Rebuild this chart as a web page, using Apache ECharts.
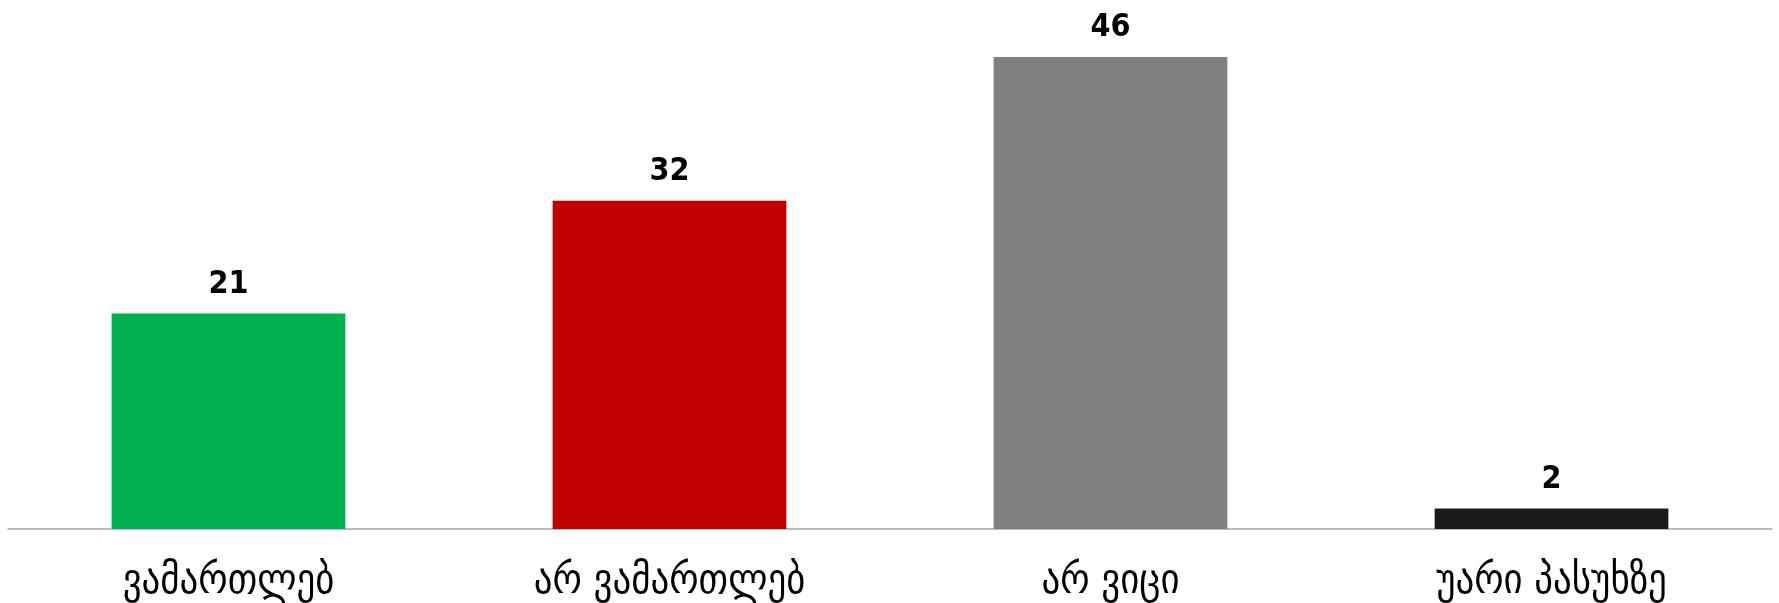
<!DOCTYPE html>
<html><head><meta charset="utf-8">
<script src="https://cdn.jsdelivr.net/npm/echarts@6/dist/echarts.min.js"></script>
<style>html,body{margin:0;padding:0;background:#fff}#c{width:1779px;height:603px}</style>
</head><body><div id="c"></div>
<script>
const categories = ['ვამართლებ', 'არ ვამართლებ', 'არ ვიცი', 'უარი პასუხზე'];
const values = [21, 32, 46, 2];
const colors = ['#00B050', '#C00000', '#808080', '#1A1A1A'];

const chart = echarts.init(document.getElementById('c'));
chart.setOption({
  animation: false,
  grid: { left: 8, right: 7, top: 16, bottom: 73, containLabel: false },
  xAxis: {
    type: 'category', data: categories,
    axisLine: { lineStyle: { color: '#A6A6A6', width: 1.5 } },
    axisTick: { show: false },
    axisLabel: { color: '#000', fontSize: 41, margin: 33, fontFamily: "'DejaVu Sans Condensed', 'DejaVu Sans'" }
  },
  yAxis: { type: 'value', min: 0, max: 50, show: false, splitLine: { show: false } },
  series: [{
    type: 'bar', barWidth: '53%',
    data: values.map((v, i) => ({ value: v, itemStyle: { color: colors[i] } })),
    label: { show: true, position: 'top', distance: 13, color: '#000', fontSize: 32, fontWeight: 'bold', fontFamily: "'DejaVu Sans Condensed', 'Liberation Sans Narrow', sans-serif" }
  }]
});
</script></body></html>
